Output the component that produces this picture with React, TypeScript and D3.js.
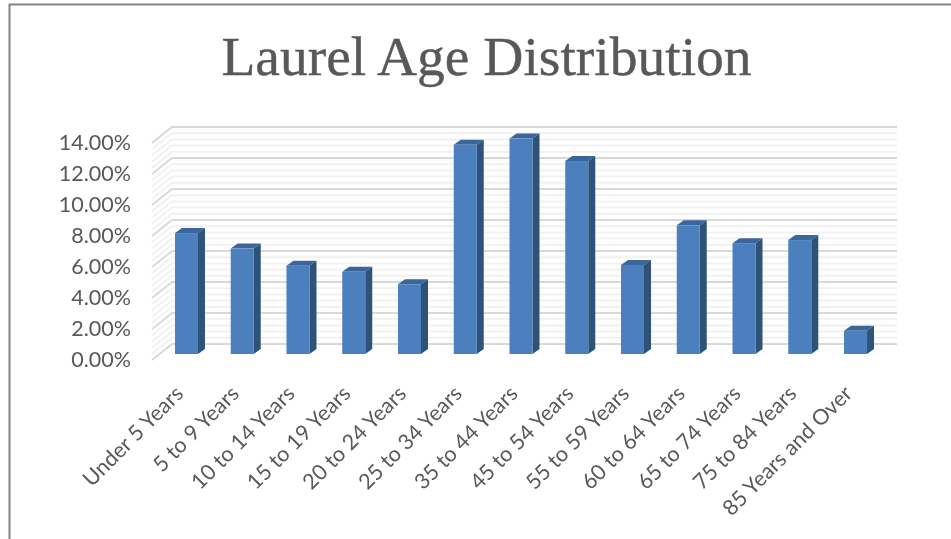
import React from "react";
import * as d3 from "d3";

const categories = ["Under 5 Years", "5 to 9 Years", "10 to 14 Years", "15 to 19 Years", "20 to 24 Years", "25 to 34 Years", "35 to 44 Years", "45 to 54 Years", "55 to 59 Years", "60 to 64 Years", "65 to 74 Years", "75 to 84 Years", "85 Years and Over"];
const values = [7.8, 6.8, 5.7, 5.3, 4.5, 13.5, 13.9, 12.45, 5.75, 8.3, 7.15, 7.35, 1.5];
const majorTicks = [0, 2, 4, 6, 8, 10, 12, 14];
const minorSteps = [0.4, 0.8, 1.2, 1.6];

const width = 951, height = 539;
const depthX = 20, depthY = 16; // floor depth of the 3d wall
const barDepthX = 7, barDepthY = 5;
const labelFont = "Lato, sans-serif";

export default function App() {
  // y scale sits on the back wall, bars are shifted towards the viewer
  const y = d3.scaleLinear().domain([0, 14]).range([344, 127]);
  const x = d3.scaleBand().domain(categories).range([158.6, 883.4]).paddingInner(0.5874).paddingOuter(0.2937);
  const barBase = 354;
  const barH = (v: number) => y(0) - y(v);
  const wallLeft = 172, wallRight = 897;
  const gridPath = (t: number) => `M${wallLeft - depthX},${y(t) + depthY}L${wallLeft},${y(t)}H${wallRight}`;
  const minorTicks = majorTicks.slice(0, -1).flatMap(t => minorSteps.map(s => t + s));

  return (
    <svg width={width} height={height} style={{ position: "absolute", left: 0, top: 0, background: "#fff" }}>
      <defs>
        {/* the reference is a slightly soft screenshot */}
        <filter id="soft" x="0" y="0" width="100%" height="100%" filterUnits="userSpaceOnUse">
          <feGaussianBlur stdDeviation="0.45" />
        </filter>
      </defs>
      <path d="M9.5,539V4.5H951" fill="none" stroke="#858585" strokeWidth={2} />
      <g filter="url(#soft)">
        <text x={486.5} y={75} textAnchor="middle" fontFamily="'Liberation Serif', serif" fontSize={55.5} fill="#595959" stroke="#595959" strokeWidth={0.4}>Laurel Age Distribution</text>

        {minorTicks.map(t => (
          <path key={t} d={gridPath(t)} fill="none" stroke="#f1f1f1" strokeWidth={2} />
        ))}
        {majorTicks.map(t => (
          <path key={t} d={gridPath(t)} fill="none" stroke="#d9d9d9" strokeWidth={2} />
        ))}

        {categories.map((c, i) => {
          const x0 = x(c)!, w = x.bandwidth(), top = barBase - barH(values[i]);
          return (
            <g key={c}>
              <path d={`M${x0},${top}l${barDepthX},${-barDepthY}h${w}l${-barDepthX},${barDepthY}z`} fill="#3a659b" />
              <path d={`M${x0 + w},${top}l${barDepthX},${-barDepthY}V${barBase - barDepthY}l${-barDepthX},${barDepthY}z`} fill="#2f5279" />
              <rect x={x0} y={top} width={w} height={barH(values[i])} fill="#4c7fbd" />
            </g>
          );
        })}

        {majorTicks.map(t => (
          <text key={t} x={131} y={y(t) + depthY + 7} textAnchor="end" fontFamily={labelFont} fontSize={21.5} fill="#595959">{d3.format(".2f")(t)}%</text>
        ))}
        {categories.map(c => {
          const cx = x(c)! + x.bandwidth() / 2 - 2;
          return (
            <text key={c} transform={`translate(${cx},395) rotate(-45)`} textAnchor="end" fontFamily={labelFont} fontSize={21.5} fill="#595959">{c}</text>
          );
        })}
      </g>
    </svg>
  );
}
